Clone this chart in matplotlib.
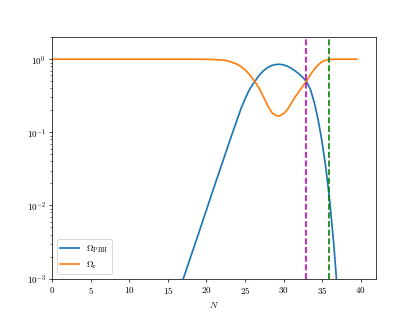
import matplotlib
matplotlib.use("Agg")
import matplotlib.pyplot as plt

plt.rcParams['font.family'] = 'serif'
plt.rcParams['font.serif'] = ['cmr10', 'DejaVu Serif']
plt.rcParams['mathtext.fontset'] = 'cm'
plt.rcParams['axes.formatter.use_mathtext'] = True

# --- data ---
N_pbh = [15.0, 17.0, 19.0, 21.0, 23.0, 23.5, 24.0, 24.5, 25.0, 25.5, 26.0, 26.5,
         27.0, 27.5, 28.0, 28.5, 29.0, 29.5, 30.0, 30.5, 31.0, 31.5, 32.0, 32.5,
         33.0, 33.5, 34.0, 34.5, 35.0, 35.5, 36.0, 36.5, 37.0]
omega_pbh = [2.3e-4, 1.0e-3, 4.2e-3, 1.8e-2, 7.55e-2, 0.107, 0.151, 0.214, 0.285,
             0.372, 0.452, 0.537, 0.63, 0.71, 0.776, 0.822, 0.847, 0.851, 0.836,
             0.80, 0.75, 0.69, 0.63, 0.562, 0.49, 0.38, 0.251, 0.145, 0.0724,
             0.0316, 0.011, 0.0030, 6.3e-4]

N_r = [0.0, 18.0, 20.0, 21.0, 22.0, 22.5, 23.0, 23.5, 24.0, 24.5, 25.0, 25.5, 26.0,
       26.5, 27.0, 27.5, 28.0, 28.5, 29.0, 29.3, 29.5, 30.0, 30.5, 31.0, 31.5, 32.0,
       32.5, 33.0, 33.5, 34.0, 34.5, 35.0, 35.5, 36.0, 36.5, 39.5]
omega_r = [1.0, 1.0, 0.995, 0.988, 0.975, 0.96, 0.93, 0.895, 0.85, 0.79, 0.715, 0.63,
           0.54, 0.455, 0.37, 0.29, 0.225, 0.185, 0.17, 0.167, 0.168, 0.18, 0.205,
           0.25, 0.305, 0.36, 0.43, 0.51, 0.62, 0.73, 0.84, 0.925, 0.97, 0.99, 1.0,
           1.0]

N_mag = 32.9
N_green = 35.92

fig, ax = plt.subplots(figsize=(6.4, 4.8), dpi=65.3)
ax.plot(N_pbh, omega_pbh, lw=1.9, label=r'$\Omega_{\rm PBH}$')
ax.plot(N_r, omega_r, lw=1.9, label=r'$\Omega_{\rm r}$')
ax.axvline(N_mag, color='m', ls='--', lw=1.8)
ax.axvline(N_green, color='g', ls='--', lw=1.8)

ax.set_yscale('log')
ax.set_ylim(1e-3, 2)
ax.set_xlim(0, 42)
ax.set_xlabel(r'$N$')
ax.legend(loc='lower left')

fig.savefig('out.png', dpi=65.3)
